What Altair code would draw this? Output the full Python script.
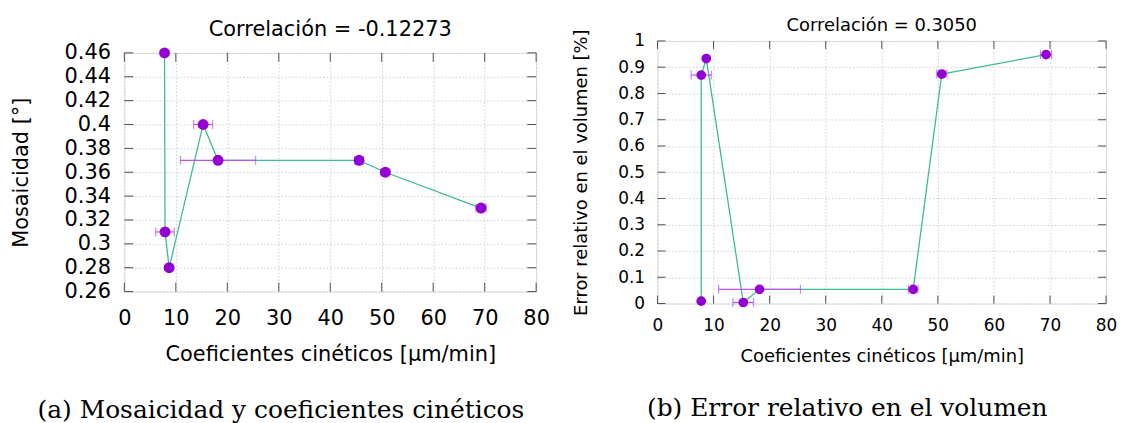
import altair as alt
import pandas as pd

# ---------------- data ----------------
kin_coef = [7.8, 7.9, 8.7, 15.3, 18.2, 45.6, 50.7, 69.3]
kin_err = [0.0, 1.8, 0.0, 1.85, 7.3, 0.85, 0.9, 1.0]
mosaic = [0.46, 0.31, 0.28, 0.40, 0.37, 0.37, 0.36, 0.33]
kin_coef_b = [7.8, 7.8, 8.7, 15.3, 18.2, 45.6, 50.7, 69.3]
vol_err = [0.009, 0.87, 0.933, 0.004, 0.054, 0.054, 0.874, 0.948]

x_ticks = [0, 10, 20, 30, 40, 50, 60, 70, 80]
y_ticks_a = [0.26, 0.28, 0.30, 0.32, 0.34, 0.36, 0.38, 0.40, 0.42, 0.44, 0.46]
y_ticks_b = [0, 0.1, 0.2, 0.3, 0.4, 0.5, 0.6, 0.7, 0.8, 0.9, 1.0]

title_a = "Correlación = -0.12273"
title_b = "Correlación = 0.3050"
x_title = "Coeficientes cinéticos [µm/min]"
y_title_a = "Mosaicidad [°]"
y_title_b = "Error relativo en el volumen [%]"
caption_a = "(a) Mosaicidad y coeficientes cinéticos"
caption_b = "(b) Error relativo en el volumen"

POINT = "#9400d3"
LINE = "#3dbb98"
ERR = "#b455e8"
BORDER = "#505050"
SANS = "DejaVu Sans"
SERIF = "DejaVu Serif"


def panel(xs, ys, errs, ydom, yticks, W, H, fs, tfs, title, ytitle,
          lpx, tpx, lpy, tpy, toff, tick_len, msize):
    df = pd.DataFrame({"x": xs, "y": ys, "e": errs, "i": list(range(len(xs)))})
    df["lo"] = df["x"] - df["e"]
    df["hi"] = df["x"] + df["e"]
    dferr = df[df["e"] > 0]
    caps = pd.concat([
        pd.DataFrame({"cx": dferr["lo"], "y": dferr["y"]}),
        pd.DataFrame({"cx": dferr["hi"], "y": dferr["y"]}),
    ])

    xs_ = alt.Scale(domain=[0, 80], nice=False, zero=False)
    ys_ = alt.Scale(domain=ydom, nice=False, zero=False)
    common = dict(grid=True, gridDash=[1.5, 2], gridColor="#cfcfcf", ticks=False,
                  tickSize=0, domain=False, labelFont=SANS, labelFontSize=fs,
                  labelColor="black", titleFont=SANS, titleFontSize=tfs,
                  titleFontWeight="normal", titleColor="black", labelFlush=False,
                  labelExpr="toString(datum.value)")
    xa = alt.Axis(values=x_ticks, title=x_title, labelPadding=lpx,
                  titlePadding=tpx, **common)
    ya = alt.Axis(values=yticks, title=ytitle, labelPadding=lpy,
                  titlePadding=tpy, **common)

    X = lambda f: alt.X(f, type="quantitative", scale=xs_, axis=xa)
    Y = lambda f: alt.Y(f, type="quantitative", scale=ys_, axis=ya)

    base = alt.Chart(df)
    line = base.mark_line(color=LINE, strokeWidth=1.3).encode(
        x=X("x"), y=Y("y"), order=alt.Order("i:Q"))
    err = alt.Chart(dferr).mark_rule(color=ERR, strokeWidth=1.2).encode(
        x=X("lo"), x2="hi", y=Y("y"))
    cap = alt.Chart(caps).mark_tick(color=ERR, orient="vertical", size=9,
                                    thickness=1.2).encode(x=X("cx"), y=Y("y"))
    pts = base.mark_circle(color=POINT, size=msize, opacity=1).encode(
        x=X("x"), y=Y("y"))

    xt = alt.Chart(pd.DataFrame({"t": x_ticks}))
    yt = alt.Chart(pd.DataFrame({"t": yticks}))
    tb = xt.mark_rule(color=BORDER).encode(x=X("t"), y=alt.value(H), y2=alt.value(H - tick_len))
    tt = xt.mark_rule(color=BORDER).encode(x=X("t"), y=alt.value(0), y2=alt.value(tick_len))
    tl = yt.mark_rule(color=BORDER).encode(y=Y("t"), x=alt.value(0), x2=alt.value(tick_len))
    tr = yt.mark_rule(color=BORDER).encode(y=Y("t"), x=alt.value(W), x2=alt.value(W - tick_len))

    return alt.layer(tb, tt, tl, tr, line, err, cap, pts).properties(
        width=W, height=H,
        title=alt.TitleParams(title, font=SANS, fontSize=tfs, fontWeight="normal",
                              color="black", anchor="middle", frame="group",
                              offset=toff))


def spacer(h):
    return alt.Chart(pd.DataFrame({"s": [0]})).mark_point(size=1, opacity=0).encode(
        x=alt.value(0), y=alt.value(0)
    ).properties(width=1, height=h, view=alt.ViewBackground(stroke=None))


left = panel(kin_coef, mosaic, kin_err, [0.26, 0.46], y_ticks_a, 414, 240,
             21, 21, title_a, y_title_a, 16, 15, 14, 33, 2, 9, 120)
right = panel(kin_coef_b, vol_err, kin_err, [0, 1], y_ticks_b, 451, 264,
              17, 18, title_b, y_title_b, 14, 14, 13, 27, -6, 8, 95)

left_w = alt.vconcat(spacer(8), left, spacing=0, title=alt.TitleParams(
    caption_a, orient="bottom", font=SERIF, fontSize=25, fontWeight="normal",
    color="black", anchor="start", dx=28, offset=33.5))
right_w = alt.vconcat(spacer(6), right, spacing=0, title=alt.TitleParams(
    caption_b, orient="bottom", font=SERIF, fontSize=25, fontWeight="normal",
    color="black", anchor="start", dx=75, offset=31))

chart = alt.hconcat(left_w, right_w, spacing=22).properties(
    padding={"left": 1, "top": 0, "right": 0, "bottom": 0}
).configure_view(stroke=BORDER, strokeWidth=1).configure(background="white")

chart.save("out.html", embed_options={"renderer": "svg", "actions": False})
